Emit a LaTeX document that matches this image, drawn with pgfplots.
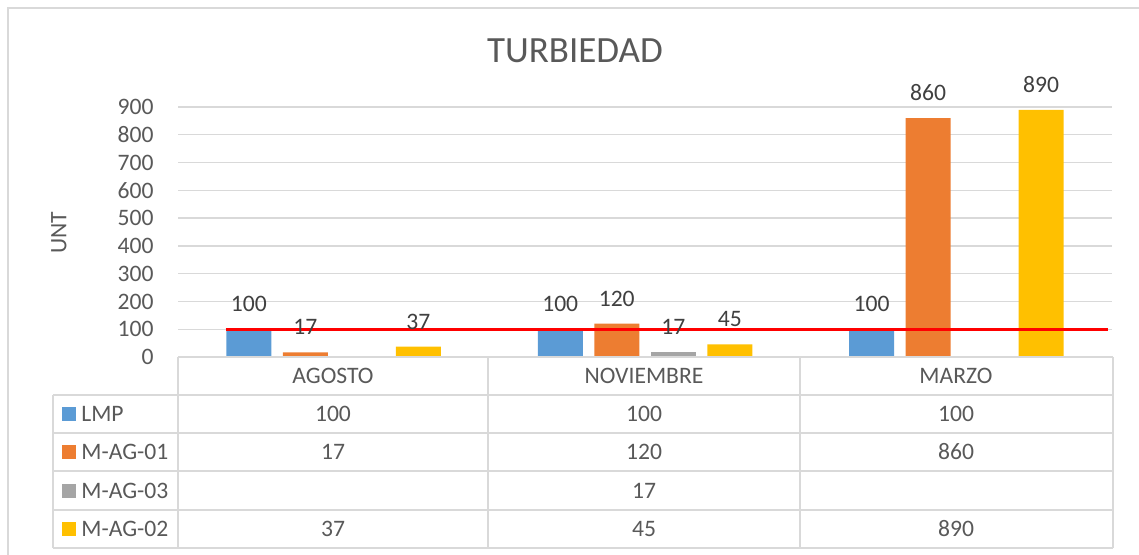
\documentclass[border=0pt]{standalone}
\usepackage{fontspec}
\setmainfont{Carlito}
\usepackage{pgfplots}
\pgfplotsset{compat=1.18}
\definecolor{cLMP}{HTML}{5B9BD5}
\definecolor{cAG1}{HTML}{ED7D31}
\definecolor{cAG3}{HTML}{A5A5A5}
\definecolor{cAG2}{HTML}{FFC000}
\definecolor{gridgray}{HTML}{D9D9D9}
\definecolor{txt}{HTML}{595959}
\definecolor{lbl}{HTML}{404040}
\newcommand{\fs}{\fontsize{11.8}{13}\selectfont}
\begin{document}
\begin{tikzpicture}
\path[use as bounding box] (0,0) rectangle (569.5pt,-277.5pt);
\begin{axis}[
  at={(89pt,-178.5pt)}, anchor=south west, scale only axis,
  width=467pt, height=125pt,
  xmin=-0.5, xmax=2.5, ymin=0, ymax=900,
  ytick={0,100,...,900}, xtick=\empty,
  ymajorgrids, grid style={draw=gridgray, line width=0.7pt},
  axis line style={draw=none}, major tick length=0pt,
  yticklabel style={font=\fs, text=txt, inner sep=0pt, xshift=-12pt},
  /pgf/number format/assume math mode=true,
  clip=false,
  every node near coord/.append style={font=\fs, text=lbl, anchor=south, inner sep=0pt, yshift=8.5pt},
]
\addplot[ybar, bar width=22.5pt, bar shift=-42.375pt, fill=cLMP, draw=none, nodes near coords,
  every node near coord/.append style={xshift=-42.375pt}] coordinates {(0,100) (1,100) (2,100)};
\addplot[ybar, bar width=22.5pt, bar shift=-14.125pt, fill=cAG1, draw=none, nodes near coords,
  every node near coord/.append style={xshift=-14.125pt}] coordinates {(0,17) (1,120) (2,860)};
\addplot[ybar, bar width=22.5pt, bar shift=14.125pt, fill=cAG3, draw=none, nodes near coords,
  every node near coord/.append style={xshift=14.125pt}] coordinates {(1,17)};
\addplot[ybar, bar width=22.5pt, bar shift=42.375pt, fill=cAG2, draw=none, nodes near coords,
  every node near coord/.append style={xshift=42.375pt}] coordinates {(0,37) (1,45) (2,890)};
\addplot[red, line width=1.3pt, sharp plot, mark=none] coordinates {(-0.347,100) (2.486,100)};
\end{axis}
\begin{scope}[x=0.5pt, y=-0.5pt]
  % outer border (left and top visible)
  \draw[gridgray, line width=0.8pt] (8,555) -- (8,8) -- (1139,8);
  % title and y label
  \node[font=\fontsize{18.5}{20}\selectfont, text=txt] at (575,51) {TURBIEDAD};
  \node[font=\fs, text=txt, rotate=90] at (59,233) {UNT};
  % data table lines
  \begin{scope}[gridgray, line width=0.8pt]
    \draw (178,357) -- (1113,357);
    \foreach \y in {395,433,471,510,548} \draw (53,\y) -- (1113,\y);
    \foreach \x in {178,488,800,1113} \draw (\x,357) -- (\x,548);
    \draw (53,395) -- (53,548);
  \end{scope}
  % headers
  \foreach \x/\t in {333/AGOSTO,644/NOVIEMBRE,956/MARZO}
    \node[font=\fs, text=txt] at (\x,376) {\t};
  % legend keys
  \foreach \y/\c/\t in {414/cLMP/LMP,452/cAG1/M-AG-01,490.5/cAG3/M-AG-03,529/cAG2/M-AG-02}{
    \fill[\c] (62,\y-7) rectangle (76,\y+7);
    \node[font=\fs, text=txt, anchor=west, inner sep=0pt] at (81,\y) {\t};
  }
  % values
  \foreach \x/\v in {333/100,644/100,956/100}
    \node[font=\fs, text=txt] at (\x,414) {\v};
  \foreach \x/\v in {333/17,644/120,956/860}
    \node[font=\fs, text=txt] at (\x,452) {\v};
  \node[font=\fs, text=txt] at (644,490.5) {17};
  \foreach \x/\v in {333/37,644/45,956/890}
    \node[font=\fs, text=txt] at (\x,529) {\v};
\end{scope}
\end{tikzpicture}
\end{document}
